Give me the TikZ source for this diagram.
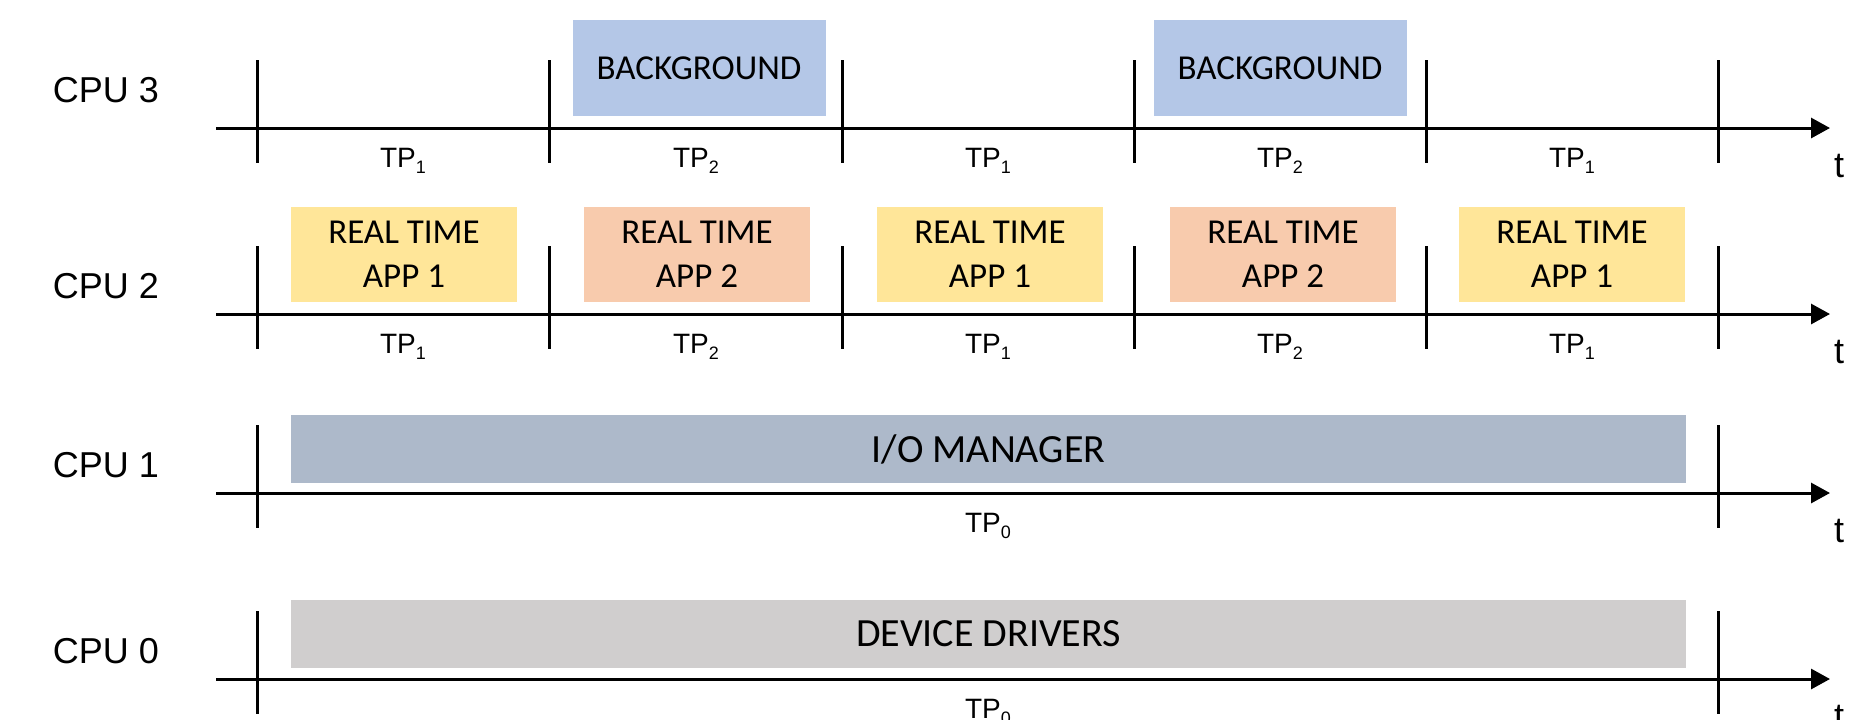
\documentclass[tikz,border=0pt]{standalone}
\usepackage{fontspec}
\setmainfont{Liberation Sans}
\newfontfamily\boxfont{Carlito}
\usetikzlibrary{arrows.meta}

\definecolor{bgblue}{HTML}{B4C7E7}
\definecolor{appyellow}{HTML}{FFE699}
\definecolor{apporange}{HTML}{F8CBAD}
\definecolor{iogrey}{HTML}{ADB9CA}
\definecolor{drvgrey}{HTML}{D0CECE}

% time-partition label with a lowered index
\newcommand\tpsub[1]{TP\raisebox{-3pt}{\fontsize{9}{10}\selectfont #1}}

\begin{document}
\begin{tikzpicture}[x=0.5pt,y=-0.5pt,
  axisline/.style={line width=1.5pt,-{Triangle[length=9.5pt,width=10pt]}},
  tickmark/.style={line width=1.5pt},
  task/.style={rectangle,inner sep=0pt,align=center,text=black,
    font=\boxfont\fontsize{17.5}{22}\selectfont},
  bgtask/.style={task,fill=bgblue,minimum width=126.5pt,minimum height=48pt},
  apptask/.style={task,minimum width=113pt,minimum height=47.5pt},
  longtask/.style={task,minimum width=697.5pt,minimum height=34pt,
    font=\boxfont\fontsize{20}{24}\selectfont},
  cpulabel/.style={anchor=base,font=\fontsize{18}{21}\selectfont},
  tplabel/.style={anchor=base,font=\fontsize{14}{16}\selectfont},
  tlabel/.style={anchor=base,font=\fontsize{18}{21}\selectfont},
]
\useasboundingbox (0,0) rectangle (1855,719);

% ---- axes ----
\foreach \n/\y in {3/128,2/314,1/493,0/679}{
  \coordinate (a\n s) at (216,\y);
  \coordinate (a\n e) at (1830,\y);
  \draw[axisline] (a\n s) -- (a\n e);
  \node[tlabel] (t\n) at (1839,\y+49) {t};
}

% ---- partition boundaries ----
\foreach \y in {128,314}{
  \foreach \x in {257,549.5,842,1134,1426,1718.5}{
    \draw[tickmark] (\x,\y-68) -- (\x,\y+35);
  }
}
\foreach \y in {493,679}{
  \foreach \x in {257,1718.5}{
    \draw[tickmark] (\x,\y-68) -- (\x,\y+35);
  }
}

% ---- CPU names ----
\node[cpulabel] (cpu3) at (106,102) {CPU 3};
\node[cpulabel] (cpu2) at (106,298) {CPU 2};
\node[cpulabel] (cpu1) at (106,477) {CPU 1};
\node[cpulabel] (cpu0) at (106,663) {CPU 0};

% ---- CPU 3: background partitions ----
\node[bgtask] (bg1) at (699,68) {BACKGROUND};
\node[bgtask] (bg2) at (1280,68) {BACKGROUND};

% ---- CPU 2: real-time applications ----
\node[apptask,fill=appyellow] (rt1) at (404,254) {REAL TIME\\APP 1};
\node[apptask,fill=apporange] (rt2) at (697,254) {REAL TIME\\APP 2};
\node[apptask,fill=appyellow] (rt3) at (990,254) {REAL TIME\\APP 1};
\node[apptask,fill=apporange] (rt4) at (1283,254) {REAL TIME\\APP 2};
\node[apptask,fill=appyellow] (rt5) at (1572,254) {REAL TIME\\APP 1};

% ---- CPU 1 and CPU 0 ----
\node[longtask,fill=iogrey] (io) at (988.5,449) {I/O MANAGER};
\node[longtask,fill=drvgrey] (drv) at (988.5,634) {DEVICE DRIVERS};

% ---- partition labels ----
\foreach \y/\r in {167/a,353/b}{
  \node[tplabel] (tp\r1) at (403,\y) {\tpsub{1}};
  \node[tplabel] (tp\r2) at (696,\y) {\tpsub{2}};
  \node[tplabel] (tp\r3) at (988,\y) {\tpsub{1}};
  \node[tplabel] (tp\r4) at (1280,\y) {\tpsub{2}};
  \node[tplabel] (tp\r5) at (1572,\y) {\tpsub{1}};
}
\node[tplabel] (tpio) at (988,532) {\tpsub{0}};
\node[tplabel] (tpdrv) at (988,718) {\tpsub{0}};
\end{tikzpicture}
\end{document}
